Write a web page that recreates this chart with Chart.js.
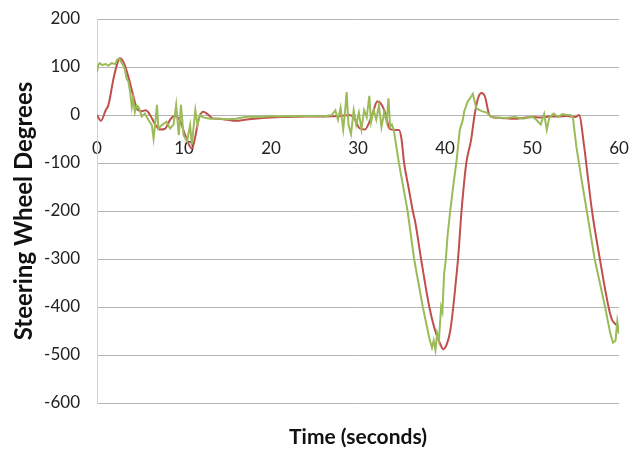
<!DOCTYPE html>
<html>
<head>
<meta charset="utf-8">
<script src="https://cdn.jsdelivr.net/npm/chart.js@4"></script>
<style>
  html, body { margin:0; padding:0; background:#fff; }
  #wrap { width:640px; height:450px; }
</style>
</head>
<body>
<div id="wrap"><canvas id="chart" width="640" height="450"></canvas></div>
<script>
// ── data ───────────────────────────────────────────────────────
const xTicks = [0, 10, 20, 30, 40, 50, 60];
const yTicks = [-600, -500, -400, -300, -200, -100, 0, 100, 200];

// red trace (smooth)
const redTime = [0, 0.45, 1.0, 1.3, 1.9, 2.3, 2.6, 3.1, 3.6, 4.1, 4.7, 5.2, 5.6, 6.1, 6.7, 7.2, 7.8, 8.4, 8.9, 9.5,
  10.0, 10.4, 10.9, 11.3, 11.7, 12.2, 12.7, 13.3, 14, 15, 16, 17, 18, 19, 20, 22, 24, 26, 28, 29,
  29.5, 30.2, 30.8, 31.3, 31.8, 32.2, 32.7, 33.2, 33.6, 34.2, 34.7, 35.0, 35.3, 35.8, 36.3, 36.6, 37.25, 38.2, 38.8, 39.3,
  39.8, 40.2, 40.6, 40.95, 41.3, 41.5, 41.9, 42.45, 43.0, 43.4, 43.8, 44.2, 44.6, 45.1, 45.6, 46.5, 48, 49, 50, 51,
  52, 53, 54, 55, 55.4, 56.0, 56.3, 56.9, 57.8, 58.8, 59.2, 59.5, 59.8, 60];
const redValues = [0, -12, 10, 20, 76, 105, 118, 108, 80, 45, 10, 8, 10, 0, -20, -30, -29, -10, -2, -10,
  -35, -55, -70, -45, -8, 7, 2, -7, -8, -10, -12, -10, -8, -6, -5, -4, -3, -3, -2, 0,
  -5, -28, -30, -15, 10, 28, 22, 0, -28, -31, -31, -50, -100, -150, -200, -225, -300, -400, -445, -470,
  -488, -478, -450, -400, -337, -300, -200, -100, -52, 0, 35, 46, 38, 0, -5, -6, -8, -6, -4, -5,
  -3, -3, -2, -4, 0, -66, -111, -200, -300, -400, -427, -434, -440, -455];

// green trace (noisy)
const greenTime = [0, 0.15, 0.3, 0.6, 1.0, 1.3, 1.7, 2.1, 2.3, 2.55, 2.8, 3.0, 3.2, 3.4, 3.6, 3.8, 4.0, 4.15, 4.35, 4.55,
  4.77, 5.15, 5.5, 5.9, 6.3, 6.5, 6.7, 6.9, 7.05, 7.45, 8.0, 8.4, 8.8, 9.1, 9.4, 9.65, 9.95, 10.35, 10.7, 10.9,
  11.3, 11.55, 11.8, 12.2, 13, 14, 15, 16, 17, 18, 19, 20, 21, 22, 23, 24, 25, 26, 27, 27.4,
  27.7, 28.0, 28.3, 28.5, 28.7, 28.9, 29.2, 29.5, 29.8, 30.1, 30.4, 30.7, 31.0, 31.3, 31.5, 31.8, 32.1, 32.4, 32.7, 33.0,
  33.3, 33.5, 33.7, 33.9, 34.1, 34.7, 35.7, 36.45, 37.45, 38.2, 38.5, 38.7, 38.9, 39.1, 39.3, 39.55, 39.7, 39.9, 40.1, 40.3,
  40.6, 41.0, 41.3, 41.7, 42.05, 42.2, 42.6, 43.0, 43.2, 43.6, 44.2, 44.8, 45.3, 46, 47, 48, 49, 50, 50.5, 51,
  51.4, 51.7, 52, 52.5, 53, 53.5, 54, 54.4, 54.7, 55.1, 55.7, 56.3, 57.2, 58.4, 59.0, 59.3, 59.6, 59.8, 60];
const greenValues = [90, 104, 108, 104, 106, 103, 108, 106, 115, 118, 110, 104, 95, 76, 70, 49, 17, 35, 6, 20,
  17, -3, 3, -10, -21, -49, -15, 21, -28, -21, -14, -28, -20, 21, -42, 21, -42, -55, -21, -62,
  10, -21, 0, -5, -8, -8, -9, -8, -4, -3, -4, -2, -3, -2, -3, -2, -2, -3, 0, 10,
  -10, 15, -30, 5, 48, -20, -40, 10, -20, 5, -30, 10, -5, 40, -15, 10, -10, 20, -25, 5,
  -15, 35, -25, -20, -30, -100, -200, -300, -400, -465, -485, -470, -490, -455, -470, -400, -410, -330, -300, -250,
  -200, -140, -100, -31, -10, 7, 28, 38, 44, 14, 8, 5, -4, -5, -6, -4, -8, -3, -10, -20,
  2, -31, -5, 3, -4, 2, 0, 0, -5, -66, -135, -200, -300, -400, -455, -474, -470, -430, -455];

const toPoints = (ts, vs) => ts.map((t, i) => ({ x: t, y: vs[i] }));

const FONT = 'Lato, "Open Sans", sans-serif';
const GRID = '#b5b5b5';

new Chart(document.getElementById('chart'), {
  type: 'line',
  data: {
    datasets: [
      { label: 'green', data: toPoints(greenTime, greenValues), borderColor: '#9bbb59', borderWidth: 2,
        pointRadius: 0, tension: 0, order: 0, xAxisID: 'x', yAxisID: 'y' },
      { label: 'red', data: toPoints(redTime, redValues), borderColor: '#c0504d', borderWidth: 2,
        pointRadius: 0, cubicInterpolationMode: 'monotone', order: 1, xAxisID: 'x', yAxisID: 'y' },
    ]
  },
  options: {
    responsive: false,
    animation: false,
    layout: { padding: { top: 19, right: 21, bottom: 0, left: 0 } },
    plugins: { legend: { display: false }, tooltip: { enabled: false } },
    scales: {
      x: {
        type: 'linear', position: 'bottom', min: 0, max: 60,
        ticks: { display: false },
        grid: { display: false, drawTicks: false },
        border: { display: false },
        title: { display: true, text: 'Time (seconds)', color: '#111',
                 font: { family: FONT, size: 21, weight: 'bold' }, padding: { top: 0, bottom: 0 } },
        afterFit: s => { s.height = 47; }
      },
      x0: {
        type: 'linear', axis: 'x', position: { y: 0 }, min: 0, max: 60,
        afterBuildTicks: s => { s.ticks = xTicks.map(v => ({ value: v })); },
        ticks: { color: '#222', font: { family: FONT, size: 17 }, padding: 23, maxRotation: 0 },
        grid: { display: false, drawTicks: false },
        border: { display: false },
        afterFit: s => { s.paddingLeft = 0; s.paddingRight = 0; }
      },
      y: {
        min: -600, max: 200,
        afterBuildTicks: s => { s.ticks = yTicks.map(v => ({ value: v })); },
        ticks: { color: '#222', font: { family: FONT, size: 17 }, padding: 17 },
        grid: { color: GRID, drawTicks: false },
        border: { color: '#d4d4d4' },
        title: { display: true, text: 'Steering Wheel Degrees', color: '#111',
                 font: { family: FONT, size: 24, weight: 'bold' }, padding: { top: 10, bottom: 0 } },
        afterFit: s => { s.width = 97; s.paddingTop = 0; s.paddingBottom = 0; }
      }
    }
  }
});
</script>
</body>
</html>
